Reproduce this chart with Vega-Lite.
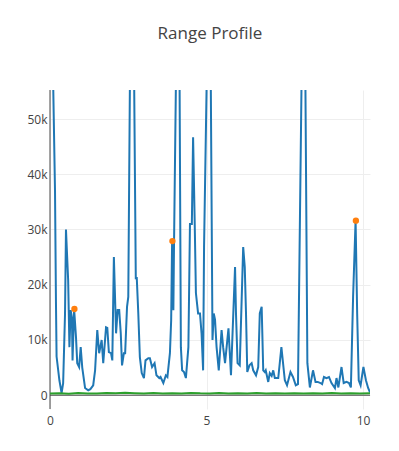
{
  "$schema": "https://vega.github.io/schema/vega-lite/v6.json",
  "width": 320,
  "height": 319,
  "autosize": {"type": "none"},
  "padding": {"left": 50, "top": 90, "right": 29, "bottom": 42},
  "background": "white",
  "title": {"text": "Range Profile", "font": "Open Sans", "fontSize": 17, "fontWeight": "normal", "color": "#444", "anchor": "middle", "baseline": "alphabetic", "offset": 34},
  "config": {
    "view": {"stroke": null},
    "axis": {"labelFont": "Open Sans", "labelFontSize": 12, "labelColor": "#444", "domain": false, "ticks": false, "gridColor": "#eee", "gridWidth": 1, "title": null}
  },
  "datasets": {
    "profile": [
      {"x": 0, "y": 90000}, {"x": 0.16, "y": 37000}, {"x": 0.19, "y": 17000}, {"x": 0.21, "y": 7000}, {"x": 0.30, "y": 2700}, {"x": 0.37, "y": 400}, {"x": 0.42, "y": 2200}, {"x": 0.48, "y": 14800}, {"x": 0.51, "y": 30000}, {"x": 0.58, "y": 20800}, {"x": 0.62, "y": 8700}, {"x": 0.66, "y": 15400}, {"x": 0.70, "y": 14000}, {"x": 0.72, "y": 6300}, {"x": 0.77, "y": 15600}, {"x": 0.83, "y": 10500}, {"x": 0.87, "y": 5800}, {"x": 0.93, "y": 5100}, {"x": 0.98, "y": 8700}, {"x": 1.03, "y": 5000}, {"x": 1.12, "y": 1300}, {"x": 1.22, "y": 900}, {"x": 1.29, "y": 1100}, {"x": 1.38, "y": 1800}, {"x": 1.44, "y": 4500}, {"x": 1.51, "y": 11800}, {"x": 1.57, "y": 7600}, {"x": 1.65, "y": 10000}, {"x": 1.70, "y": 5800}, {"x": 1.79, "y": 12300}, {"x": 1.83, "y": 12200}, {"x": 1.88, "y": 7800}, {"x": 1.95, "y": 7600}, {"x": 1.99, "y": 6300}, {"x": 2.04, "y": 25000}, {"x": 2.11, "y": 11200}, {"x": 2.16, "y": 15400}, {"x": 2.21, "y": 15400}, {"x": 2.26, "y": 11200}, {"x": 2.30, "y": 5400}, {"x": 2.36, "y": 7600}, {"x": 2.40, "y": 7600}, {"x": 2.46, "y": 16000}, {"x": 2.50, "y": 17800}, {"x": 2.60, "y": 92000}, {"x": 2.64, "y": 89000}, {"x": 2.74, "y": 21000}, {"x": 2.77, "y": 21400}, {"x": 2.82, "y": 14800}, {"x": 2.87, "y": 6900}, {"x": 2.93, "y": 4000}, {"x": 3.00, "y": 3100}, {"x": 3.05, "y": 6300}, {"x": 3.14, "y": 6700}, {"x": 3.19, "y": 6700}, {"x": 3.26, "y": 5100}, {"x": 3.34, "y": 5800}, {"x": 3.40, "y": 3600}, {"x": 3.49, "y": 3100}, {"x": 3.53, "y": 3300}, {"x": 3.62, "y": 2200}, {"x": 3.70, "y": 3600}, {"x": 3.75, "y": 3300}, {"x": 3.83, "y": 7600}, {"x": 3.87, "y": 13600}, {"x": 3.90, "y": 28000}, {"x": 3.94, "y": 15400}, {"x": 3.96, "y": 26800}, {"x": 4.06, "y": 75000}, {"x": 4.12, "y": 78000}, {"x": 4.18, "y": 8700}, {"x": 4.22, "y": 4500}, {"x": 4.28, "y": 4200}, {"x": 4.34, "y": 3100}, {"x": 4.42, "y": 8700}, {"x": 4.47, "y": 31000}, {"x": 4.53, "y": 31000}, {"x": 4.57, "y": 46700}, {"x": 4.62, "y": 31700}, {"x": 4.66, "y": 18500}, {"x": 4.73, "y": 14800}, {"x": 4.79, "y": 14800}, {"x": 4.84, "y": 11200}, {"x": 4.89, "y": 4500}, {"x": 4.92, "y": 26800}, {"x": 5.05, "y": 73000}, {"x": 5.11, "y": 78000}, {"x": 5.19, "y": 10000}, {"x": 5.23, "y": 14800}, {"x": 5.27, "y": 13700}, {"x": 5.32, "y": 8700}, {"x": 5.39, "y": 4500}, {"x": 5.48, "y": 11800}, {"x": 5.53, "y": 8700}, {"x": 5.59, "y": 5800}, {"x": 5.70, "y": 12100}, {"x": 5.78, "y": 3600}, {"x": 5.91, "y": 23200}, {"x": 5.94, "y": 14800}, {"x": 5.99, "y": 5800}, {"x": 6.06, "y": 5400}, {"x": 6.17, "y": 26800}, {"x": 6.22, "y": 23200}, {"x": 6.26, "y": 14800}, {"x": 6.30, "y": 4200}, {"x": 6.37, "y": 5400}, {"x": 6.44, "y": 5800}, {"x": 6.49, "y": 4500}, {"x": 6.58, "y": 3600}, {"x": 6.65, "y": 5100}, {"x": 6.70, "y": 14800}, {"x": 6.76, "y": 16000}, {"x": 6.81, "y": 4500}, {"x": 6.86, "y": 4200}, {"x": 6.89, "y": 4500}, {"x": 6.97, "y": 2400}, {"x": 7.02, "y": 4000}, {"x": 7.08, "y": 3500}, {"x": 7.13, "y": 4500}, {"x": 7.18, "y": 3100}, {"x": 7.29, "y": 3100}, {"x": 7.39, "y": 8700}, {"x": 7.50, "y": 2700}, {"x": 7.57, "y": 1800}, {"x": 7.68, "y": 4200}, {"x": 7.76, "y": 3300}, {"x": 7.85, "y": 1800}, {"x": 7.92, "y": 2000}, {"x": 8.07, "y": 74000}, {"x": 8.13, "y": 78000}, {"x": 8.22, "y": 5800}, {"x": 8.30, "y": 1400}, {"x": 8.40, "y": 4500}, {"x": 8.48, "y": 2400}, {"x": 8.55, "y": 2400}, {"x": 8.64, "y": 2200}, {"x": 8.69, "y": 2000}, {"x": 8.75, "y": 3300}, {"x": 8.83, "y": 3100}, {"x": 8.91, "y": 3300}, {"x": 8.99, "y": 2200}, {"x": 9.10, "y": 1300}, {"x": 9.15, "y": 3100}, {"x": 9.21, "y": 1400}, {"x": 9.31, "y": 5100}, {"x": 9.38, "y": 2200}, {"x": 9.47, "y": 2400}, {"x": 9.55, "y": 2200}, {"x": 9.61, "y": 1400}, {"x": 9.68, "y": 17800}, {"x": 9.76, "y": 31600}, {"x": 9.81, "y": 14800}, {"x": 9.86, "y": 2700}, {"x": 9.92, "y": 1800}, {"x": 10.01, "y": 5100}, {"x": 10.09, "y": 2700}, {"x": 10.16, "y": 1300}, {"x": 10.22, "y": 500}
    ],
    "noise": [
      {"x": 0, "y": 300}, {"x": 0.3, "y": 350}, {"x": 0.6, "y": 280}, {"x": 0.9, "y": 400}, {"x": 1.2, "y": 320}, {"x": 1.5, "y": 300}, {"x": 1.8, "y": 380}, {"x": 2.1, "y": 330}, {"x": 2.4, "y": 420}, {"x": 2.7, "y": 350}, {"x": 3.0, "y": 300}, {"x": 3.3, "y": 380}, {"x": 3.6, "y": 310}, {"x": 3.9, "y": 360}, {"x": 4.2, "y": 300}, {"x": 4.5, "y": 400}, {"x": 4.8, "y": 330}, {"x": 5.1, "y": 310}, {"x": 5.4, "y": 380}, {"x": 5.7, "y": 300}, {"x": 6.0, "y": 350}, {"x": 6.3, "y": 320}, {"x": 6.6, "y": 390}, {"x": 6.9, "y": 300}, {"x": 7.2, "y": 340}, {"x": 7.5, "y": 300}, {"x": 7.8, "y": 370}, {"x": 8.1, "y": 320}, {"x": 8.4, "y": 350}, {"x": 8.7, "y": 300}, {"x": 9.0, "y": 380}, {"x": 9.3, "y": 320}, {"x": 9.6, "y": 350}, {"x": 9.9, "y": 300}, {"x": 10.22, "y": 330}
    ],
    "peaks": [
      {"x": 0.78, "y": 15600}, {"x": 3.91, "y": 27900}, {"x": 9.77, "y": 31600}
    ],
    "zeros": [{"z": 0}]
  },
  "layer": [
    {
      "data": {"name": "zeros"},
      "mark": {"type": "rule", "color": "#444", "strokeWidth": 1},
      "encoding": {
        "x": {"field": "z", "type": "quantitative", "scale": {"domain": [0, 10.22], "nice": false, "zero": false}, "axis": {"values": [0, 5, 10], "format": "d", "labelPadding": 6, "grid": true, "labelFlush": false}}
      }
    },
    {
      "data": {"name": "zeros"},
      "mark": {"type": "rule", "color": "#444", "strokeWidth": 1},
      "encoding": {
        "y": {"field": "z", "type": "quantitative", "scale": {"domain": [-2500, 55250], "nice": false, "zero": false}, "axis": {"values": [0, 10000, 20000, 30000, 40000, 50000], "labelExpr": "datum.value == 0 ? '0' : format(datum.value / 1000, 'd') + 'k'", "labelPadding": 3, "grid": true}}
      }
    },
    {
      "data": {"name": "profile"},
      "mark": {"type": "line", "color": "#1f77b4", "strokeWidth": 2, "clip": true},
      "encoding": {
        "x": {"field": "x", "type": "quantitative"},
        "y": {"field": "y", "type": "quantitative"}
      }
    },
    {
      "data": {"name": "noise"},
      "mark": {"type": "line", "color": "#2ca02c", "strokeWidth": 2, "clip": true},
      "encoding": {
        "x": {"field": "x", "type": "quantitative"},
        "y": {"field": "y", "type": "quantitative"}
      }
    },
    {
      "data": {"name": "peaks"},
      "mark": {"type": "point", "filled": true, "color": "#ff7f0e", "size": 40, "opacity": 1},
      "encoding": {
        "x": {"field": "x", "type": "quantitative"},
        "y": {"field": "y", "type": "quantitative"}
      }
    }
  ]
}
